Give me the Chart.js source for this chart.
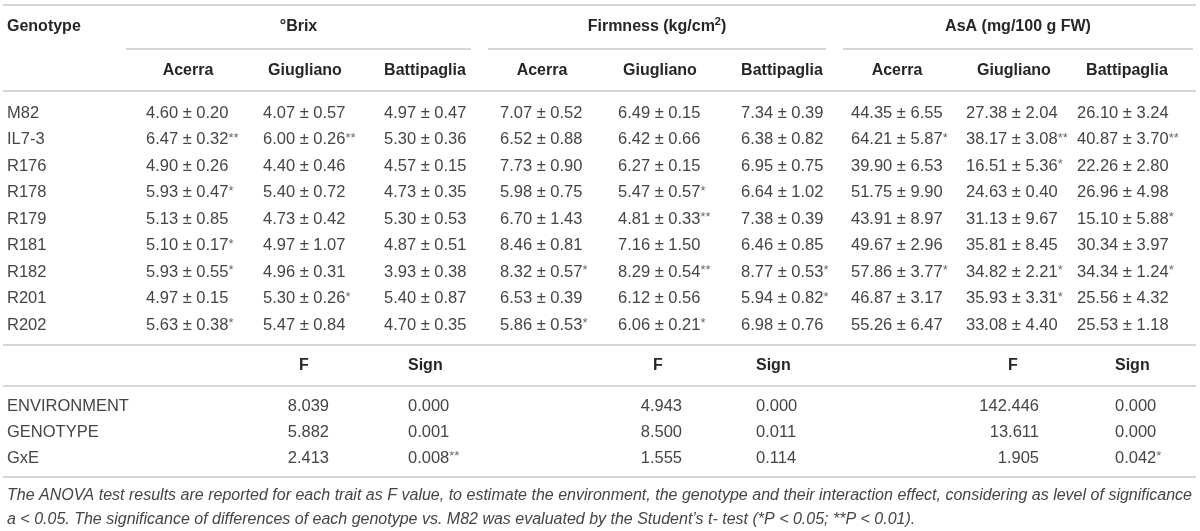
<!DOCTYPE html>
<html>
<head>
<meta charset="utf-8">
<script src="https://cdn.jsdelivr.net/npm/chart.js@4/dist/chart.umd.min.js"></script>
<style>
  html, body { margin: 0; padding: 0; background: #fff; }
  #wrap { width: 1200px; height: 531px; }
</style>
</head>
<body>
<div id="wrap"><canvas id="table" width="1200" height="531"></canvas></div>
<script>
// table content
const genotypes = ['M82', 'IL7-3', 'R176', 'R178', 'R179', 'R181', 'R182', 'R201', 'R202'];
const locations = ['Acerra', 'Giugliano', 'Battipaglia'];
const traits = ['°Brix', 'Firmness (kg/cm^2)', 'AsA (mg/100 g FW)'];

const brixAcerra = ['4.60 ± 0.20', '6.47 ± 0.32**', '4.90 ± 0.26', '5.93 ± 0.47*', '5.13 ± 0.85', '5.10 ± 0.17*', '5.93 ± 0.55*', '4.97 ± 0.15', '5.63 ± 0.38*'];
const brixGiugliano = ['4.07 ± 0.57', '6.00 ± 0.26**', '4.40 ± 0.46', '5.40 ± 0.72', '4.73 ± 0.42', '4.97 ± 1.07', '4.96 ± 0.31', '5.30 ± 0.26*', '5.47 ± 0.84'];
const brixBattipaglia = ['4.97 ± 0.47', '5.30 ± 0.36', '4.57 ± 0.15', '4.73 ± 0.35', '5.30 ± 0.53', '4.87 ± 0.51', '3.93 ± 0.38', '5.40 ± 0.87', '4.70 ± 0.35'];
const firmAcerra = ['7.07 ± 0.52', '6.52 ± 0.88', '7.73 ± 0.90', '5.98 ± 0.75', '6.70 ± 1.43', '8.46 ± 0.81', '8.32 ± 0.57*', '6.53 ± 0.39', '5.86 ± 0.53*'];
const firmGiugliano = ['6.49 ± 0.15', '6.42 ± 0.66', '6.27 ± 0.15', '5.47 ± 0.57*', '4.81 ± 0.33**', '7.16 ± 1.50', '8.29 ± 0.54**', '6.12 ± 0.56', '6.06 ± 0.21*'];
const firmBattipaglia = ['7.34 ± 0.39', '6.38 ± 0.82', '6.95 ± 0.75', '6.64 ± 1.02', '7.38 ± 0.39', '6.46 ± 0.85', '8.77 ± 0.53*', '5.94 ± 0.82*', '6.98 ± 0.76'];
const asaAcerra = ['44.35 ± 6.55', '64.21 ± 5.87*', '39.90 ± 6.53', '51.75 ± 9.90', '43.91 ± 8.97', '49.67 ± 2.96', '57.86 ± 3.77*', '46.87 ± 3.17', '55.26 ± 6.47'];
const asaGiugliano = ['27.38 ± 2.04', '38.17 ± 3.08**', '16.51 ± 5.36*', '24.63 ± 0.40', '31.13 ± 9.67', '35.81 ± 8.45', '34.82 ± 2.21*', '35.93 ± 3.31*', '33.08 ± 4.40'];
const asaBattipaglia = ['26.10 ± 3.24', '40.87 ± 3.70**', '22.26 ± 2.80', '26.96 ± 4.98', '15.10 ± 5.88*', '30.34 ± 3.97', '34.34 ± 1.24*', '25.56 ± 4.32', '25.53 ± 1.18'];

const anovaSources = ['ENVIRONMENT', 'GENOTYPE', 'GxE'];
const brixF = ['8.039', '5.882', '2.413'];
const brixSign = ['0.000', '0.001', '0.008**'];
const firmF = ['4.943', '8.500', '1.555'];
const firmSign = ['0.000', '0.011', '0.114'];
const asaF = ['142.446', '13.611', '1.905'];
const asaSign = ['0.000', '0.000', '0.042*'];

const footnote = [
  'The ANOVA test results are reported for each trait as F value, to estimate the environment, the genotype and their interaction effect, considering as level of significance',
  'a < 0.05. The significance of differences of each genotype vs. M82 was evaluated by the Student\u2019s t- test (*P < 0.05; **P < 0.01).'
];

// layout (in the 1200 x 531 frame the scales map onto)
const FAMILY = '"Liberation Sans", Arial, Helvetica, sans-serif';
const X_LABEL = 7;
const X_RULE = [3, 1196];
const COL_LEFT = [146, 263, 384, 500, 618, 741, 851, 966, 1077];
const COL_CENTER = [188, 305, 425, 542, 660, 782, 897, 1014, 1127];
const GROUP_SPAN = [[126, 471], [488, 826], [843, 1193]];
const F_CENTER = [304, 658, 1013];
const F_RIGHT = [329, 682, 1039];
const SIGN_LEFT = [408, 756, 1115];
const Y_TOP_RULE = 5, Y_GROUP = 27, Y_GROUP_RULE = 49, Y_SUB = 71, Y_HEAD_RULE = 91;
const Y_FIRST_ROW = 113, ROW_PITCH = 26.5, Y_DATA_RULE = 345;
const Y_ANOVA_HEAD = 366, Y_ANOVA_RULE = 386, Y_ANOVA_FIRST = 406, ANOVA_PITCH = 26, Y_END_RULE = 477;
const Y_NOTE = [496, 520];
const X_NOTE_END = 1192;

const RULE_COLOR = '#d6d6d6';
const HEAD_COLOR = '#262626';
const BODY_COLOR = '#454545';

const rowY = genotypes.map((g, i) => Y_FIRST_ROW + i * ROW_PITCH);
const anovaY = anovaSources.map((s, i) => Y_ANOVA_FIRST + i * ANOVA_PITCH);

function cells(texts, xs, ys, style) {
  return Object.assign({
    type: 'scatter',
    data: texts.map((t, i) => ({ x: Array.isArray(xs) ? xs[i] : xs, y: Array.isArray(ys) ? ys[i] : ys })),
    cells: texts,
    pointRadius: 0,
    pointHoverRadius: 0,
    align: 'left',
    weight: 'normal',
    fontStyle: 'normal',
    size: 16.5,
    color: BODY_COLOR
  }, style);
}

function rule(x0, x1, y) {
  return {
    type: 'line',
    data: [{ x: x0, y: y }, { x: x1, y: y }],
    borderColor: RULE_COLOR,
    borderWidth: 2,
    pointRadius: 0,
    pointHoverRadius: 0
  };
}

const head = { weight: 'bold', color: HEAD_COLOR, size: 16 };
const datasets = [];

// rules
[Y_TOP_RULE, Y_HEAD_RULE, Y_DATA_RULE, Y_ANOVA_RULE, Y_END_RULE].forEach(y => datasets.push(rule(X_RULE[0], X_RULE[1], y)));
GROUP_SPAN.forEach(s => datasets.push(rule(s[0], s[1], Y_GROUP_RULE)));

// headers
datasets.push(cells(['Genotype'], X_LABEL, Y_GROUP, head));
datasets.push(cells(traits, GROUP_SPAN.map(s => (s[0] + s[1]) / 2), Y_GROUP, Object.assign({ align: 'center' }, head)));
const subHeads = [].concat(locations, locations, locations);
datasets.push(cells(subHeads, COL_CENTER, Y_SUB, Object.assign({ align: 'center' }, head)));

// body
datasets.push(cells(genotypes, X_LABEL, rowY));
[brixAcerra, brixGiugliano, brixBattipaglia, firmAcerra, firmGiugliano, firmBattipaglia, asaAcerra, asaGiugliano, asaBattipaglia]
  .forEach((col, i) => datasets.push(cells(col, COL_LEFT[i], rowY)));

// anova
datasets.push(cells(['F', 'F', 'F'], F_CENTER, Y_ANOVA_HEAD, Object.assign({ align: 'center' }, head)));
datasets.push(cells(['Sign', 'Sign', 'Sign'], SIGN_LEFT, Y_ANOVA_HEAD, head));
datasets.push(cells(anovaSources, X_LABEL, anovaY));
[brixF, firmF, asaF].forEach((col, i) => datasets.push(cells(col, F_RIGHT[i], anovaY, { align: 'right' })));
[brixSign, firmSign, asaSign].forEach((col, i) => datasets.push(cells(col, SIGN_LEFT[i], anovaY)));

// footnote
datasets.push(cells([footnote[0]], X_LABEL, Y_NOTE[0], { fontStyle: 'italic', size: 16, justifyTo: X_NOTE_END }));
datasets.push(cells([footnote[1]], X_LABEL, Y_NOTE[1], { fontStyle: 'italic', size: 16 }));

function font(ds, size) {
  return ds.fontStyle + ' ' + ds.weight + ' ' + size + 'px ' + FAMILY;
}

// split a cell into runs: [text, kind] with kind 'n' normal, 'sup' superscript, 'star' significance marks
function runs(text) {
  const out = [];
  const k = text.indexOf('^');
  if (k >= 0) {
    out.push([text.slice(0, k), 'n'], [text[k + 1], 'sup'], [text.slice(k + 2), 'n']);
    return out;
  }
  const m = text.match(/^(.*?)(\*+)$/);
  if (m) return [[m[1], 'n'], [m[2], 'star']];
  return [[text, 'n']];
}

function drawCell(ctx, ds, text, x, y, scaleX) {
  ctx.textBaseline = 'middle';
  ctx.fillStyle = ds.color;
  ctx.textAlign = 'left';
  if (ds.justifyTo) {
    ctx.font = font(ds, ds.size);
    const words = text.split(' ');
    const widths = words.map(w => ctx.measureText(w).width);
    const total = widths.reduce((a, b) => a + b, 0);
    const gap = (scaleX.getPixelForValue(ds.justifyTo) - x - total) / (words.length - 1);
    let cx = x;
    words.forEach((w, i) => { ctx.fillText(w, cx, y); cx += widths[i] + gap; });
    return;
  }
  const parts = runs(text);
  const sizeOf = kind => kind === 'sup' ? Math.round(ds.size * 0.7) : kind === 'star' ? Math.round(ds.size * 0.8) : ds.size;
  const shiftOf = kind => kind === 'sup' ? -ds.size * 0.33 : kind === 'star' ? -ds.size * 0.08 : 0;
  const widths = parts.map(p => { ctx.font = font(ds, sizeOf(p[1])); return ctx.measureText(p[0]).width; });
  const total = widths.reduce((a, b) => a + b, 0);
  let cx = ds.align === 'center' ? x - total / 2 : ds.align === 'right' ? x - total : x;
  parts.forEach((p, i) => {
    ctx.font = font(ds, sizeOf(p[1]));
    ctx.fillStyle = p[1] === 'star' ? '#6a6a6a' : ds.color;
    ctx.fillText(p[0], cx, y + shiftOf(p[1]));
    cx += widths[i];
  });
}

const tableText = {
  id: 'tableText',
  afterDatasetsDraw(chart) {
    const ctx = chart.ctx;
    chart.data.datasets.forEach((ds, i) => {
      if (!ds.cells) return;
      const meta = chart.getDatasetMeta(i);
      ctx.save();
      meta.data.forEach((pt, j) => drawCell(ctx, ds, ds.cells[j], pt.x, pt.y, chart.scales.x));
      ctx.restore();
    });
  }
};

new Chart(document.getElementById('table').getContext('2d'), {
  type: 'scatter',
  data: { datasets: datasets },
  options: {
    responsive: false,
    animation: false,
    events: [],
    layout: { padding: 0 },
    scales: {
      x: { type: 'linear', min: 0, max: 1200, display: false },
      y: { type: 'linear', min: 0, max: 531, reverse: true, display: false }
    },
    plugins: { legend: { display: false }, tooltip: { enabled: false } }
  },
  plugins: [tableText]
});
</script>
</body>
</html>
